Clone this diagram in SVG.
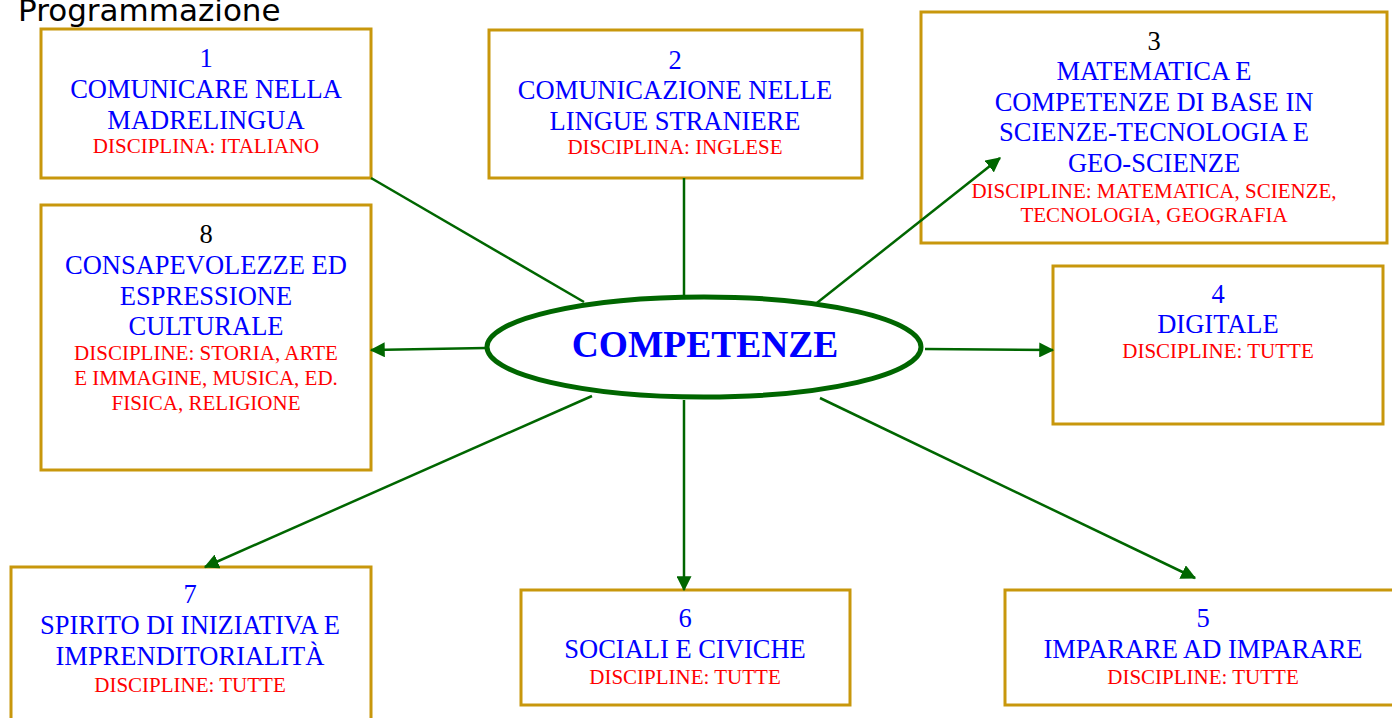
<svg xmlns="http://www.w3.org/2000/svg" width="1392" height="718" viewBox="0 0 1392 718">
<style>
.box{fill:#fff;stroke:#c8970c;stroke-width:3}
.t{font-family:"Liberation Serif","Times New Roman",serif;font-size:26.5px;fill:#0000ff;text-anchor:middle}
.k{fill:#000}
.r{font-family:"Liberation Serif","Times New Roman",serif;font-size:21px;fill:#ff0000;text-anchor:middle}
.c{stroke:#006600;stroke-width:2.5;fill:none}
</style>
<defs>
<marker id="ah" markerWidth="6" markerHeight="6" refX="5.5" refY="3" orient="auto" markerUnits="strokeWidth" viewBox="0 0 6 6">
<path d="M0,0 L6,3 L0,6 z" fill="#006600"/>
</marker>
</defs>
<rect width="1392" height="718" fill="#fff"/>
<text x="18" y="21" font-family="DejaVu Sans,sans-serif" font-size="31" fill="#000">Programmazione</text>
<g id="n1">
<rect class="box" x="41" y="29" width="330" height="149"/>
<text class="t" x="206" y="67">1</text>
<text class="t" x="206" y="98">COMUNICARE NELLA</text>
<text class="t" x="206" y="129">MADRELINGUA</text>
<text class="r" x="206" y="153">DISCIPLINA: ITALIANO</text>
</g>
<g id="n2">
<rect class="box" x="489" y="30" width="373" height="148"/>
<text class="t" x="675" y="69">2</text>
<text class="t" x="675" y="99">COMUNICAZIONE NELLE</text>
<text class="t" x="675" y="130">LINGUE STRANIERE</text>
<text class="r" x="675" y="154">DISCIPLINA: INGLESE</text>
</g>
<g id="n3">
<rect class="box" x="921" y="12" width="466" height="231"/>
<text class="t k" x="1154" y="50">3</text>
<text class="t" x="1154" y="80">MATEMATICA E</text>
<text class="t" x="1154" y="111">COMPETENZE DI BASE IN</text>
<text class="t" x="1154" y="141">SCIENZE-TECNOLOGIA E</text>
<text class="t" x="1154" y="172">GEO-SCIENZE</text>
<text class="r" x="1154" y="198">DISCIPLINE: MATEMATICA, SCIENZE,</text>
<text class="r" x="1154" y="222">TECNOLOGIA, GEOGRAFIA</text>
</g>
<g id="n4">
<rect class="box" x="1053" y="266" width="330" height="158"/>
<text class="t" x="1218" y="303">4</text>
<text class="t" x="1218" y="333">DIGITALE</text>
<text class="r" x="1218" y="358">DISCIPLINE: TUTTE</text>
</g>
<g id="n5">
<rect class="box" x="1005" y="590" width="390" height="115"/>
<text class="t" x="1203" y="627">5</text>
<text class="t" x="1203" y="658">IMPARARE AD IMPARARE</text>
<text class="r" x="1203" y="684">DISCIPLINE: TUTTE</text>
</g>
<g id="n6">
<rect class="box" x="521" y="590" width="329" height="115"/>
<text class="t" x="685" y="627">6</text>
<text class="t" x="685" y="658">SOCIALI E CIVICHE</text>
<text class="r" x="685" y="684">DISCIPLINE: TUTTE</text>
</g>
<g id="n7">
<rect class="box" x="11" y="567" width="360" height="160"/>
<text class="t" x="190" y="603">7</text>
<text class="t" x="190" y="634">SPIRITO DI INIZIATIVA E</text>
<text class="t" x="190" y="665">IMPRENDITORIALITÀ</text>
<text class="r" x="190" y="692">DISCIPLINE: TUTTE</text>
</g>
<g id="n8">
<rect class="box" x="41" y="205" width="330" height="265"/>
<text class="t k" x="206" y="243">8</text>
<text class="t" x="206" y="274">CONSAPEVOLEZZE ED</text>
<text class="t" x="206" y="305">ESPRESSIONE</text>
<text class="t" x="206" y="335">CULTURALE</text>
<text class="r" x="206" y="360">DISCIPLINE: STORIA, ARTE</text>
<text class="r" x="206" y="385">E IMMAGINE, MUSICA, ED.</text>
<text class="r" x="206" y="410">FISICA, RELIGIONE</text>
</g>
<g id="connectors">
<line class="c" x1="371" y1="178" x2="584" y2="302"/>
<line class="c" x1="684" y1="178" x2="684" y2="297"/>
<line class="c" x1="813" y1="306" x2="1000" y2="158" marker-end="url(#ah)"/>
<line class="c" x1="925" y1="349" x2="1053" y2="350" marker-end="url(#ah)"/>
<line class="c" x1="820" y1="398" x2="1195" y2="578" marker-end="url(#ah)"/>
<line class="c" x1="684" y1="400" x2="684" y2="590" marker-end="url(#ah)"/>
<line class="c" x1="592" y1="396" x2="205" y2="567" marker-end="url(#ah)"/>
<line class="c" x1="486" y1="348" x2="371" y2="350" marker-end="url(#ah)"/>
</g>
<g id="center">
<ellipse cx="704" cy="347" rx="217" ry="50" fill="#fff" stroke="#006600" stroke-width="5"/>
<text x="705" y="357" font-family="Liberation Serif,serif" font-size="37.5" font-weight="bold" fill="#0000ff" text-anchor="middle">COMPETENZE</text>
</g>
</svg>
